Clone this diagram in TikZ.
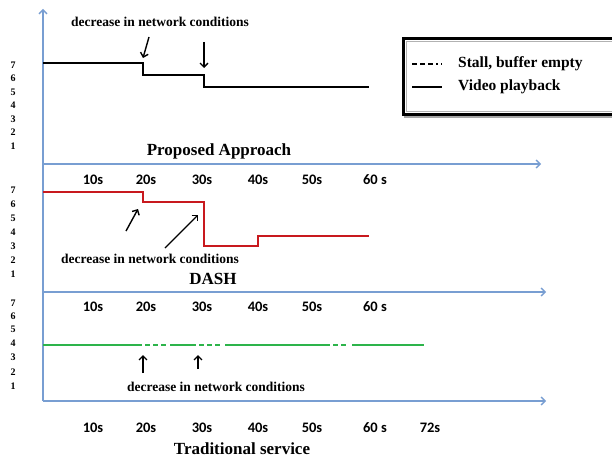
\documentclass[tikz,border=0pt]{standalone}
\usepackage{fontspec}
\usepackage{graphicx}
\setmainfont{Liberation Serif}
\newfontfamily\tickfont{Carlito}
\usetikzlibrary{arrows.meta}
\definecolor{axisblue}{RGB}{120,158,210}
\definecolor{plotred}{RGB}{200,25,30}
\definecolor{plotgreen}{RGB}{45,180,75}
\begin{document}
\begin{tikzpicture}[x=1pt,y=-1pt,
  axisarrow/.style={axisblue, line width=1.3pt, -{Straight Barb[length=4pt,width=8pt,line width=1.3pt]}},
  ytick/.style={font=\bfseries\fontsize{10}{10}\selectfont, inner sep=0pt, anchor=center},
  xtick/.style={font=\tickfont\bfseries\fontsize{14.5}{14.5}\selectfont, inner sep=0pt, anchor=center},
  note/.style={font=\bfseries\fontsize{13.5}{13.5}\selectfont, inner sep=0pt, anchor=center},
  paneltitle/.style={font=\bfseries\fontsize{17}{17}\selectfont, inner sep=0pt, anchor=center},
  legtext/.style={font=\bfseries\fontsize{15.5}{15.5}\selectfont, inner sep=0pt, anchor=west},
  pointer/.style={black, line width=1.4pt, -{Straight Barb[length=4pt,width=8pt,line width=1.4pt]}},
  blackplot/.style={black, line width=2pt, line join=miter},
  redplot/.style={plotred, line width=1.8pt, line join=miter},
  greenplot/.style={plotgreen, line width=2.2pt},
  greendash/.style={plotgreen, line width=2.2pt, dash pattern=on 4.5pt off 3.5pt}
]
\useasboundingbox (0,0) rectangle (612,460);
\fill[white] (0,0) rectangle (612,460);

% ---------- axes ----------
\coordinate (origin) at (43,401);
\coordinate (ytop) at (43,9);
\coordinate (h1s) at (43,164);
\coordinate (h1e) at (541,164);
\coordinate (h2s) at (43,292);
\coordinate (h2e) at (546,292);
\coordinate (h3e) at (546,401);
\draw[axisarrow] (origin) -- (ytop);
\draw[axisarrow] (h1s) -- (h1e);
\draw[axisarrow] (h2s) -- (h2e);
\draw[axisarrow] (origin) -- (h3e);

% ---------- y labels ----------
\foreach \v/\y in {7/65,6/78.5,5/92,4/105.5,3/119,2/132.5,1/146}
  \node[ytick] (ya\v) at (13,\y) {\v};
\foreach \v/\y in {7/190,6/204,5/218,4/232,3/246,2/260,1/274}
  \node[ytick] (yb\v) at (13,\y) {\v};
\foreach \v/\y in {7/303,6/316,5/329.5,4/343,3/357.5,2/372,1/386}
  \node[ytick] (yc\v) at (13,\y) {\v};

% ---------- x tick labels ----------
\foreach \t/\x in {10s/93,20s/146,30s/202,40s/258,50s/312}
  {\node[xtick] at (\x,180) {\t};
   \node[xtick] at (\x,307) {\t};
   \node[xtick] at (\x,428) {\t};}
\node[xtick] (xa60) at (375,180) {60 s};
\node[xtick] (xb60) at (375,307) {60 s};
\node[xtick] (xc60) at (375,428) {60 s};
\node[xtick] (xc72) at (430,428) {72s};

% ---------- panel 1: proposed approach ----------
\draw[blackplot] (43,63) -- (143,63) -- (143,75) -- (204,75) -- (204,87) -- (369,87);
\node[note] (n1) at (160,22) {decrease in network conditions};
\coordinate (p1a) at (149,37); \coordinate (p1b) at (143,58);
\coordinate (p2a) at (204,42); \coordinate (p2b) at (204,68);
\draw[pointer] (p1a) -- (p1b);
\draw[pointer] (p2a) -- (p2b);
\node[paneltitle] (t1) at (219,151) {Proposed Approach};

% ---------- panel 2: DASH ----------
\draw[redplot] (43,192) -- (143,192) -- (143,202) -- (204,202) -- (204,246) -- (258,246) -- (258,236) -- (369,236);
\coordinate (q1a) at (126,231); \coordinate (q1b) at (138,209);
\coordinate (q2a) at (165,248); \coordinate (q2b) at (198,215);
\draw[pointer] (q1a) -- (q1b);
\draw[pointer] (q2a) -- (q2b);
\node[note] (n2) at (150,259) {decrease in network conditions};
\node[paneltitle] (t2) at (213,279) {DASH};

% ---------- panel 3: traditional service ----------
\draw[greenplot] (43,345) -- (142,345);
\draw[greendash] (145,345) -- (168,345);
\draw[greenplot] (170,345) -- (196,345);
\draw[greendash] (199,345) -- (222,345);
\draw[greenplot] (225,345) -- (330,345);
\draw[greendash] (333,345) -- (349,345);
\draw[greenplot] (352,345) -- (424,345);
\coordinate (r1a) at (143,373); \coordinate (r1b) at (143,355);
\coordinate (r2a) at (198,369); \coordinate (r2b) at (198,355);
\draw[pointer] (r1a) -- (r1b);
\draw[pointer] (r2a) -- (r2b);
\node[note] (n3) at (216,387) {decrease in network conditions};
\node[paneltitle] (t3) at (242,449) {Traditional service};

% ---------- legend ----------
\draw[gray!70, line width=2pt] (404,117) -- (620,117);
\draw[black, line width=3pt] (403.5,38.5) rectangle (620,114.5);
\draw[gray!60, line width=0.6pt] (406.5,41.5) rectangle (620,111.5);
\coordinate (lg1a) at (412,64); \coordinate (lg1b) at (442,64);
\coordinate (lg2a) at (412,87); \coordinate (lg2b) at (442,87);
\draw[black, line width=1.3pt, dash pattern=on 5pt off 3pt on 5pt off 3pt on 5pt off 3pt on 2pt off 3pt] (lg1a) -- (lg1b);
\draw[black, line width=1.5pt] (lg2a) -- (lg2b);
\node[legtext] (leg1) at (458,64) {Stall, buffer empty};
\node[legtext] (leg2) at (458,87) {Video playback};
\end{tikzpicture}
\end{document}
